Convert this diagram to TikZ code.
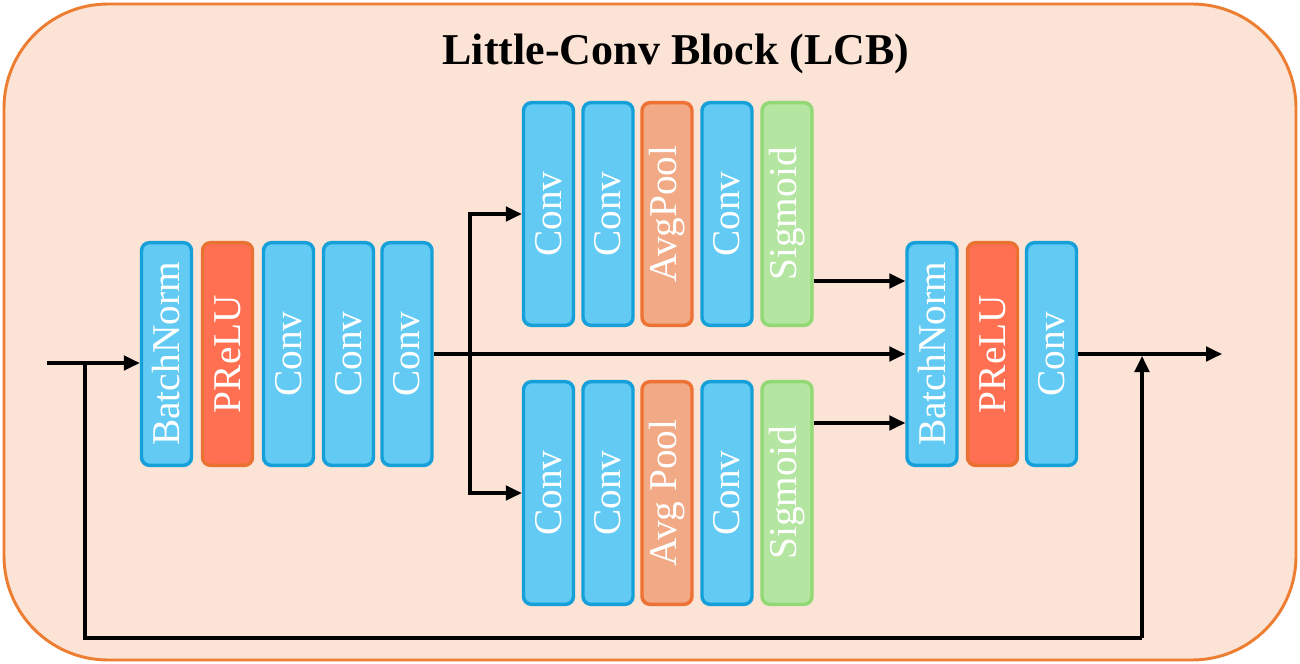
\documentclass[tikz,border=0pt]{standalone}
\usepackage{fontspec}
\setmainfont{Liberation Serif}
\usetikzlibrary{arrows.meta}
\definecolor{bgfill}{HTML}{FBE3D6}
\definecolor{bgline}{HTML}{ED7D31}
\definecolor{bluefill}{HTML}{63CBF3}
\definecolor{blueline}{HTML}{16A0DA}
\definecolor{redfill}{HTML}{FF7052}
\definecolor{redline}{HTML}{E97132}
\definecolor{poolfill}{HTML}{F1AA85}
\definecolor{poolline}{HTML}{ED7233}
\definecolor{sigfill}{HTML}{B4E6A2}
\definecolor{sigline}{HTML}{92D975}
\tikzset{
  blk/.style={rounded corners=6pt, line width=2.6pt, minimum height=37.5pt, minimum width=167pt,
    inner sep=0pt, text=white, font=\fontsize{29.5}{31}\selectfont, rotate=90},
  bconv/.style={blk, fill=bluefill, draw=blueline},
  bact/.style={blk, fill=redfill, draw=redline},
  bpool/.style={blk, fill=poolfill, draw=poolline},
  bsig/.style={blk, fill=sigfill, draw=sigline},
  arr/.style={line width=2.3pt, -{Triangle[length=12pt,width=11pt]}},
  ln/.style={line width=2.3pt},
}
\begin{document}
\begin{tikzpicture}[x=0.75pt,y=-0.75pt]
\useasboundingbox (0,0) rectangle (1300,664);
\node[draw=bgline, fill=bgfill, line width=2.2pt, rounded corners=78pt, minimum width=969pt, minimum height=492pt, inner sep=0pt] (frame) at (650,332) {};
\node[font=\bfseries\fontsize{33}{36}\selectfont] (title) at (676,54) {Little-Conv Block (LCB)};
% first group
\node[bconv] (bn1) at (166.5,354) {BatchNorm};
\node[bact]  (pr1) at (227.5,354) {PReLU};
\node[bconv] (ca) at (288.5,354) {Conv};
\node[bconv] (cb) at (348.5,354) {Conv};
\node[bconv] (cc) at (407,354) {Conv};
% top branch
\node[bconv] (t1) at (548.5,214) {Conv};
\node[bconv] (t2) at (608,214) {Conv};
\node[bpool] (t3) at (667,214) {AvgPool};
\node[bconv] (t4) at (727,214) {Conv};
\node[bsig]  (t5) at (787,214) {Sigmoid};
% bottom branch
\node[bconv] (u1) at (548.5,493) {Conv};
\node[bconv] (u2) at (608,493) {Conv};
\node[bpool] (u3) at (667,493) {Avg Pool};
\node[bconv] (u4) at (727,493) {Conv};
\node[bsig]  (u5) at (787,493) {Sigmoid};
% right group
\node[bconv] (bn2) at (932,354) {BatchNorm};
\node[bact]  (pr2) at (992.5,354) {PReLU};
\node[bconv] (cd) at (1051.5,354) {Conv};
% coordinates
\coordinate (in) at (47,363);
\coordinate (sk) at (85,363);
\coordinate (sp) at (470,354);
\coordinate (skb) at (85,638);
\coordinate (skr) at (1142,638);
\coordinate (jn) at (1142,356);
\coordinate (out) at (1222,354);
% connectors
\draw[arr] (in) -- (in -| bn1.north);
\draw[arr] (cc.south) -- (bn2.north);
\draw[arr] (sp) |- (t1.north);
\draw[arr] (sp) |- (u1.north);
\draw[arr] ([yshift=-50.25pt]t5.south) -- ([yshift=-50.25pt]t5.south -| bn2.north);
\draw[arr] ([yshift=52.5pt]u5.south) -- ([yshift=52.5pt]u5.south -| bn2.north);
\draw[arr] (cd.south) -- (out);
\draw[ln] (sk) -- (skb) -- (skr);
\draw[arr] (skr) -- (jn);
\end{tikzpicture}
\end{document}
